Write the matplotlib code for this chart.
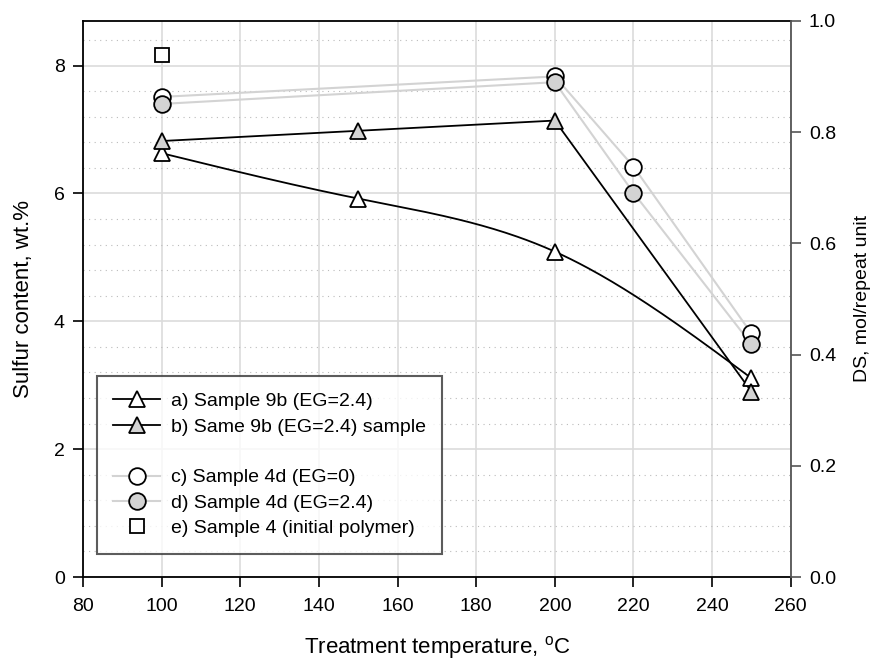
import numpy as np
import matplotlib
matplotlib.use("Agg")
import matplotlib.pyplot as plt
from matplotlib.lines import Line2D

plt.rcParams['font.family'] = ['Liberation Sans', 'DejaVu Sans']
plt.rcParams['mathtext.default'] = 'regular'

# Data
temp_a = [100, 150, 200, 250]
sulfur_a = [6.63, 5.92, 5.09, 3.11]
temp_b = [100, 150, 200, 250]
sulfur_b = [6.82, 6.98, 7.14, 2.90]
temp_c = [100, 200, 220, 250]
sulfur_c = [7.51, 7.83, 6.42, 3.81]
temp_d = [100, 200, 220, 250]
sulfur_d = [7.40, 7.74, 6.01, 3.64]
temp_e = [100]
sulfur_e = [8.17]

labels = ["a) Sample 9b (EG=2.4)", "b) Same 9b (EG=2.4) sample",
          "c) Sample 4d (EG=0)", "d) Sample 4d (EG=2.4)",
          "e) Sample 4 (initial polymer)"]

GRAY = '#d3d3d3'

def natural_spline(x, y, n=200):
    x = np.asarray(x, float); y = np.asarray(y, float)
    k = len(x); h = np.diff(x)
    A = np.zeros((k, k)); r = np.zeros(k)
    A[0, 0] = 1; A[-1, -1] = 1
    for i in range(1, k - 1):
        A[i, i - 1] = h[i - 1]; A[i, i] = 2 * (h[i - 1] + h[i]); A[i, i + 1] = h[i]
        r[i] = 6 * ((y[i + 1] - y[i]) / h[i] - (y[i] - y[i - 1]) / h[i - 1])
    M = np.linalg.solve(A, r)
    xs = np.linspace(x[0], x[-1], n)
    idx = np.clip(np.searchsorted(x, xs) - 1, 0, k - 2)
    x0 = x[idx]; x1 = x[idx + 1]; hh = x1 - x0
    ys = (M[idx] * (x1 - xs) ** 3 / (6 * hh) + M[idx + 1] * (xs - x0) ** 3 / (6 * hh)
          + (y[idx] / hh - M[idx] * hh / 6) * (x1 - xs)
          + (y[idx + 1] / hh - M[idx + 1] * hh / 6) * (xs - x0))
    return xs, ys

fig = plt.figure(figsize=(8.76, 6.61), dpi=100)
ax = fig.add_axes([0.0947, 0.127, 0.808, 0.8415])

ax.set_xlim(80, 260)
ax.set_ylim(0, 8.7)
ax.set_xticks(np.arange(80, 261, 20))
ax.set_yticks([0, 2, 4, 6, 8])
ax.set_yticks(np.arange(0.4, 8.7, 0.4), minor=True)
ax.grid(True, which='major', color='#dcdcdc', lw=1.2, zorder=0)
ax.grid(True, which='minor', axis='y', color='#bbbbbb', lw=0.8, ls=(0, (1, 4)), zorder=0)
ax.set_axisbelow(True)

ms_tri = 12
# lines
ax.plot(temp_c, sulfur_c, color=GRAY, lw=1.5, zorder=2)
ax.plot(temp_d, sulfur_d, color=GRAY, lw=1.5, zorder=2)
xs, ys = natural_spline(temp_a, sulfur_a)
ax.plot(xs, ys, color='black', lw=1.3, zorder=3)
ax.plot(temp_b, sulfur_b, color='black', lw=1.3, zorder=3)
# markers
ax.plot(temp_c, sulfur_c, 'o', ms=12, mfc='white', mec='black', mew=1.3, zorder=4)
ax.plot(temp_d, sulfur_d, 'o', ms=12, mfc=GRAY, mec='black', mew=1.3, zorder=4)
ax.plot(temp_a, sulfur_a, '^', ms=ms_tri, mfc='white', mec='black', mew=1.3, zorder=4)
ax.plot(temp_b, sulfur_b, '^', ms=ms_tri, mfc=GRAY, mec='black', mew=1.3, zorder=4)
ax.plot(temp_e, sulfur_e, 's', ms=9.5, mfc='white', mec='black', mew=1.3, zorder=4)

for s in ['left', 'bottom', 'top']:
    ax.spines[s].set_color('black'); ax.spines[s].set_linewidth(1.3)
ax.spines['right'].set_visible(False)
ax.tick_params(axis='both', which='major', direction='out', length=7, width=1.2,
               labelsize=14, colors='black')
ax.tick_params(axis='y', which='minor', length=0)
ax.tick_params(axis='x', pad=8)
ax.tick_params(axis='y', pad=6)

ax.set_xlabel('Treatment temperature, $^{o}$C', fontsize=16, labelpad=14)
ax.set_ylabel('Sulfur content, wt.%', fontsize=16, labelpad=14)

ax2 = ax.twinx()
ax2.set_ylim(0, 1.0)
ax2.set_yticks(np.arange(0, 1.01, 0.2))
ax2.set_yticklabels([f'{v:.1f}' for v in np.arange(0, 1.01, 0.2)])
for s in ['left', 'bottom', 'top']:
    ax2.spines[s].set_visible(False)
ax2.spines['right'].set_color('#555555'); ax2.spines['right'].set_linewidth(1.3)
ax2.tick_params(axis='y', direction='out', length=7, width=1.2, colors='#555555',
                labelcolor='black', labelsize=14, pad=6)
ax2.set_ylabel('DS, mol/repeat unit', fontsize=14, labelpad=13)

handles = [
    Line2D([], [], color='black', lw=1.3, marker='^', ms=ms_tri, mfc='white', mec='black', mew=1.3),
    Line2D([], [], color='black', lw=1.3, marker='^', ms=ms_tri, mfc=GRAY, mec='black', mew=1.3),
    Line2D([], [], ls='none'),
    Line2D([], [], color=GRAY, lw=1.5, marker='o', ms=12, mfc='white', mec='black', mew=1.3),
    Line2D([], [], color=GRAY, lw=1.5, marker='o', ms=12, mfc=GRAY, mec='black', mew=1.3),
    Line2D([], [], ls='none', marker='s', ms=9.5, mfc='white', mec='black', mew=1.3),
]
leg_labels = [labels[0], labels[1], ' ', labels[2], labels[3], labels[4]]
leg = ax.legend(handles, leg_labels, loc='lower left', bbox_to_anchor=(0.0198, 0.042),
                fontsize=14, frameon=True, fancybox=False, edgecolor='#333333',
                handlelength=2.4, handletextpad=0.55, labelspacing=0.40,
                borderpad=0.85, borderaxespad=0)
leg.get_frame().set_linewidth(1.5)
leg.set_zorder(10)

fig.savefig('out.png', dpi=100)
